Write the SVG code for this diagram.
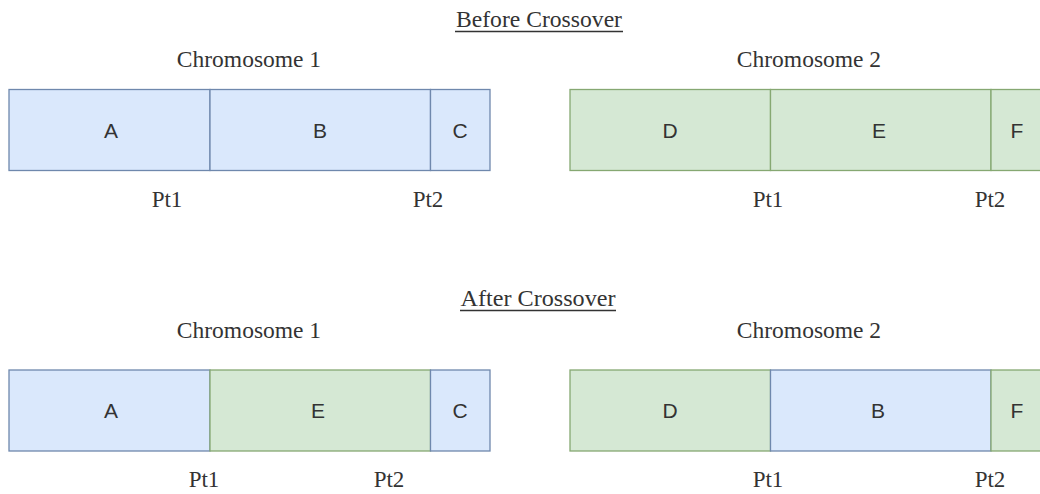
<svg xmlns="http://www.w3.org/2000/svg" width="1040" height="494" viewBox="0 0 1040 494">
  <style>
    .title { font-family: "Liberation Serif", "Times New Roman", serif; font-size: 23px; fill: #333333; text-anchor: middle; }
    .cap { font-family: "Liberation Serif", "Times New Roman", serif; font-size: 23.5px; fill: #333333; text-anchor: middle; }
    .pt { font-family: "Liberation Serif", "Times New Roman", serif; font-size: 23px; fill: #333333; text-anchor: middle; }
    .gene { font-family: "Liberation Sans", Arial, sans-serif; font-size: 21px; fill: #333333; text-anchor: middle; dominant-baseline: central; }
    .blue { fill: #dae8fc; stroke: #6f88ad; stroke-width: 1.3; }
    .green { fill: #d5e8d4; stroke: #86a872; stroke-width: 1.3; }
    .rule { stroke: #333333; stroke-width: 1.4; }
  </style>
  <rect width="1040" height="494" fill="#ffffff"/>

  <!-- Before crossover -->
  <g id="before-title">
    <text class="title" x="539" y="27" textLength="166" lengthAdjust="spacingAndGlyphs">Before Crossover</text>
    <line class="rule" x1="455" y1="31.5" x2="623" y2="31.5"/>
  </g>

  <g id="before-chr1">
    <text class="cap" x="249" y="67">Chromosome 1</text>
    <g id="before-A"><rect class="blue" x="9" y="89.5" width="201" height="81"/><text class="gene" x="111" y="130">A</text></g>
    <g id="before-B"><rect class="blue" x="210" y="89.5" width="220.5" height="81"/><text class="gene" x="320" y="130">B</text></g>
    <g id="before-C"><rect class="blue" x="430.5" y="89.5" width="59.5" height="81"/><text class="gene" x="460" y="130">C</text></g>
    <text class="pt" x="167" y="207">Pt1</text>
    <text class="pt" x="428" y="207">Pt2</text>
  </g>

  <g id="before-chr2">
    <text class="cap" x="809" y="67">Chromosome 2</text>
    <g id="before-D"><rect class="green" x="570" y="89.5" width="200.5" height="81"/><text class="gene" x="670" y="130">D</text></g>
    <g id="before-E"><rect class="green" x="770.5" y="89.5" width="220.5" height="81"/><text class="gene" x="879" y="130">E</text></g>
    <g id="before-F"><rect class="green" x="991" y="89.5" width="60" height="81"/><text class="gene" x="1017" y="130">F</text></g>
    <text class="pt" x="768" y="207">Pt1</text>
    <text class="pt" x="990" y="207">Pt2</text>
  </g>

  <!-- After crossover -->
  <g id="after-title">
    <text class="title" x="538" y="306" textLength="155" lengthAdjust="spacingAndGlyphs">After Crossover</text>
    <line class="rule" x1="460" y1="310.5" x2="616" y2="310.5"/>
  </g>

  <g id="after-chr1">
    <text class="cap" x="249" y="338">Chromosome 1</text>
    <g id="after-A"><rect class="blue" x="9" y="370" width="201" height="81"/><text class="gene" x="111" y="410.5">A</text></g>
    <g id="after-E"><rect class="green" x="210" y="370" width="220.5" height="81"/><text class="gene" x="318" y="410.5">E</text></g>
    <g id="after-C"><rect class="blue" x="430.5" y="370" width="59.5" height="81"/><text class="gene" x="460" y="410.5">C</text></g>
    <text class="pt" x="204" y="487">Pt1</text>
    <text class="pt" x="389" y="487">Pt2</text>
  </g>

  <g id="after-chr2">
    <text class="cap" x="809" y="338">Chromosome 2</text>
    <g id="after-D"><rect class="green" x="570" y="370" width="200.5" height="81"/><text class="gene" x="670" y="410.5">D</text></g>
    <g id="after-B"><rect class="blue" x="770.5" y="370" width="220.5" height="81"/><text class="gene" x="878" y="410.5">B</text></g>
    <g id="after-F"><rect class="green" x="991" y="370" width="60" height="81"/><text class="gene" x="1017" y="410.5">F</text></g>
    <text class="pt" x="768" y="487">Pt1</text>
    <text class="pt" x="990" y="487">Pt2</text>
  </g>
</svg>
